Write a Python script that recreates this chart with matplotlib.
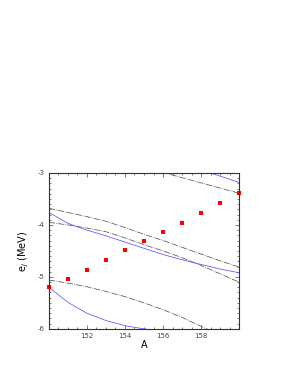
import numpy as np
import matplotlib
matplotlib.use('Agg')
import matplotlib.pyplot as plt
from matplotlib.ticker import MultipleLocator

plt.rcParams['axes.unicode_minus'] = False

# dados
A = [150, 151, 152, 153, 154, 155, 156, 157, 158, 159, 160]
exp = [-5.20, -5.04, -4.86, -4.67, -4.49, -4.31, -4.14, -3.96, -3.77, -3.58, -3.385]

# curvas tracejadas (pretas)
k1 = [None, None, None, None, None, -2.90, -2.99, -3.09, -3.19, -3.29, -3.39]
k2 = [-3.68, -3.76, -3.84, -3.93, -4.05, -4.18, -4.30, -4.43, -4.56, -4.69, -4.81]
k3 = [-3.95, -4.00, -4.06, -4.13, -4.25, -4.38, -4.50, -4.63, -4.78, -4.94, -5.10]
k4 = [-5.06, -5.12, -5.19, -5.28, -5.38, -5.50, -5.63, -5.78, -5.95, -6.12, -6.30]

# curvas azuis
b1 = [None] * 8 + [-2.94, -3.06, -3.18]
b2 = [-3.76, -3.97, -4.10, -4.21, -4.33, -4.45, -4.57, -4.67, -4.76, -4.85, -4.92]
b3 = [-5.20, -5.49, -5.70, -5.84, -5.94, -6.00, -6.05, -6.10, -6.15, -6.20, -6.25]

fig = plt.figure(figsize=(2.88, 3.72), dpi=100)
ax = fig.add_axes([0.170, 0.116, 0.660, 0.419])

def arr(v):
    return np.array([np.nan if x is None else x for x in v], dtype=float)

ds = (0, (8, 1.5, 1, 1.5))
for k in (k1, k2, k3, k4):
    ax.plot(A, arr(k), color='#555555', lw=0.55, linestyle=ds)
for b in (b1, b2, b3):
    ax.plot(A, arr(b), color='#5555ff', lw=0.55)

ax.plot(A, exp, 's', color='red', markersize=2.7, markeredgewidth=0, clip_on=False)

ax.set_xlim(150, 160)
ax.set_ylim(-6, -3)
ax.set_xticks([152, 154, 156, 158])
ax.set_yticks([-6, -5, -4, -3])
ax.xaxis.set_minor_locator(MultipleLocator(0.5))
ax.yaxis.set_minor_locator(MultipleLocator(0.1))
ax.tick_params(which='both', direction='in', top=True, right=True, labelsize=5,
               width=0.5, colors='#444444', pad=3)
ax.tick_params(which='major', length=3)
ax.tick_params(which='minor', length=1.5)
for s in ax.spines.values():
    s.set_linewidth(0.8)
    s.set_color('#333333')

ax.set_xlabel('A', fontsize=7, labelpad=1)
ax.set_ylabel('e$_j$ (MeV)', fontsize=7, labelpad=5)

fig.savefig('out.png', dpi=100)
